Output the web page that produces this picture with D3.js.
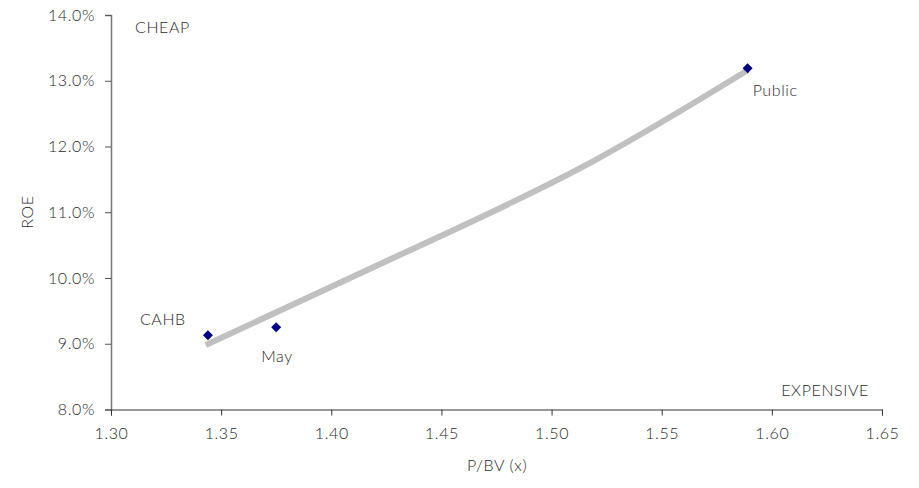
<!DOCTYPE html>
<html>
<head>
<style>
  body { margin: 0; background: #fff; }
  text { font-family: Lato, "Open Sans", sans-serif; fill: #2a2a2a; font-weight: 300; letter-spacing: 0.6px; }
</style>
</head>
<body>
<svg width="919" height="488"></svg>
<script src="https://d3js.org/d3.v7.min.js"></script>
<script>

var names = ["CAHB", "May", "Public"],
    pbv = [1.344, 1.375, 1.589],
    roe = [9.13, 9.25, 13.19];

// trendline
var trendX = [1.343, 1.431, 1.513, 1.589],
    trendY = [8.98, 10.35, 11.67, 13.16];

var xTicks = [1.30, 1.35, 1.40, 1.45, 1.50, 1.55, 1.60, 1.65],
    yTicks = [8, 9, 10, 11, 12, 13, 14];

var svg = d3.select("svg");

var x = d3.scaleLinear().domain([1.30, 1.65]).range([111, 882]),
    y = d3.scaleLinear().domain([8, 14]).range([409.5, 15]);

var yAxis = svg.append("g")
    .attr("transform", "translate(111,0)")
    .call(d3.axisLeft(y).tickValues(yTicks).tickSize(6).tickPadding(10)
      .tickFormat(function(d) { return d.toFixed(1) + "%"; }));
yAxis.select(".domain").attr("stroke", "#777").attr("stroke-width", 1.5);
yAxis.selectAll(".tick line").attr("stroke", "#555");
yAxis.selectAll("text").style("font-size", "16px").attr("fill", "#3a3a3a").attr("font-family", null);

var xAxis = svg.append("g")
    .attr("transform", "translate(0,409.5)")
    .call(d3.axisBottom(x).tickValues(xTicks).tickSizeOuter(0).tickSize(6).tickPadding(12)
      .tickFormat(d3.format(".2f")));
xAxis.select(".domain").attr("stroke", "#333");
xAxis.selectAll(".tick line").attr("stroke", "#333");
xAxis.selectAll("text").style("font-size", "16px").attr("fill", "#3a3a3a").attr("font-family", null);

var trend = d3.zip(trendX, trendY);
svg.append("path")
    .datum(trend)
    .attr("fill", "none")
    .attr("stroke", "#c0c0c0")
    .attr("stroke-width", 6)
    .attr("d", d3.line()
      .x(function(d) { return x(d[0]); })
      .y(function(d) { return y(d[1]); })
      .curve(d3.curveNatural));

var points = d3.zip(names, pbv, roe);
svg.selectAll(".pt")
    .data(points)
    .enter().append("path")
    .attr("class", "pt")
    .attr("transform", function(d) { return "translate(" + x(d[1]) + "," + y(d[2]) + ")"; })
    .attr("d", "M0,-5L5,0L0,5L-5,0Z")
    .attr("fill", "#000080");

var labelOff = { "CAHB": [-68, -10], "May": [-15, 35], "Public": [5, 28] };
svg.selectAll(".lbl")
    .data(points)
    .enter().append("text")
    .attr("x", function(d) { return x(d[1]) + labelOff[d[0]][0]; })
    .attr("y", function(d) { return y(d[2]) + labelOff[d[0]][1]; })
    .style("font-size", "16px")
    .text(function(d) { return d[0]; });

svg.append("text").attr("x", 135).attr("y", 33).style("font-size", "16px").text("CHEAP");
svg.append("text").attr("x", 869).attr("y", 396).attr("text-anchor", "end").style("font-size", "16px").text("EXPENSIVE");

svg.append("text")
    .attr("text-anchor", "middle")
    .attr("transform", "translate(33,212) rotate(-90)")
    .style("font-size", "16px")
    .text("ROE");

svg.append("text")
    .attr("x", 497).attr("y", 471)
    .attr("text-anchor", "middle")
    .style("font-size", "16px")
    .text("P/BV (x)");

</script>
</body>
</html>
